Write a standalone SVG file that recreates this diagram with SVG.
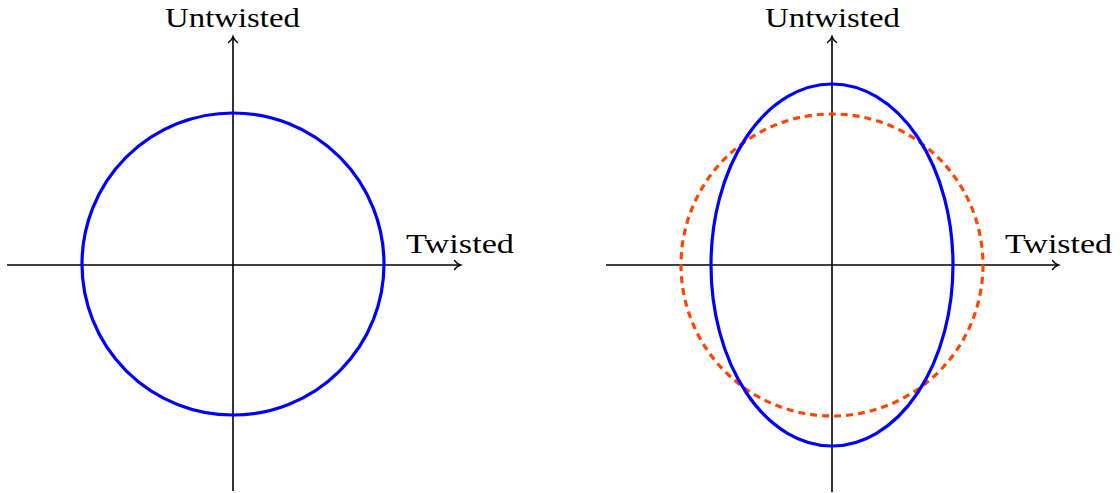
<svg xmlns="http://www.w3.org/2000/svg" width="1120" height="493" viewBox="0 0 1120 493">
<style>
.axis{stroke:#000;stroke-width:1.6;fill:none;marker-end:url(#arr)}
.curve{stroke:#0000ff;stroke-width:3.2;fill:none}
.dash{stroke:#ff4500;stroke-width:3.2;fill:none;stroke-dasharray:7 5}
.lbl{font-family:"Liberation Serif","DejaVu Serif",serif;font-size:27px;fill:#000}
</style>
<defs>
<marker id="arr" markerWidth="12" markerHeight="12" refX="8" refY="6" orient="auto" markerUnits="userSpaceOnUse">
<path d="M2.5,1.5 Q5,5 8.5,6 Q5,7 2.5,10.5" stroke="#000" stroke-width="1.4" fill="none" stroke-linecap="round"/>
</marker>
</defs>
<g id="connectors">
<line class="axis" x1="7" y1="265" x2="460" y2="265"/>
<line class="axis" x1="233" y1="491" x2="233" y2="37"/>
<line class="axis" x1="606" y1="265" x2="1058" y2="265"/>
<line class="axis" x1="832" y1="492" x2="832" y2="37"/>
</g>
<g id="left-circle"><circle class="curve" cx="233" cy="264" r="151"/></g>
<g id="right-dashed"><circle class="dash" cx="832" cy="265" r="151"/></g>
<g id="right-ellipse"><ellipse class="curve" cx="832" cy="265" rx="121" ry="181"/></g>
<g id="labels">
<text class="lbl" x="165" y="27" textLength="135" lengthAdjust="spacingAndGlyphs">Untwisted</text>
<text class="lbl" x="406" y="253" textLength="108" lengthAdjust="spacingAndGlyphs">Twisted</text>
<text class="lbl" x="765" y="27" textLength="135" lengthAdjust="spacingAndGlyphs">Untwisted</text>
<text class="lbl" x="1005" y="253" textLength="107" lengthAdjust="spacingAndGlyphs">Twisted</text>
</g>
</svg>
